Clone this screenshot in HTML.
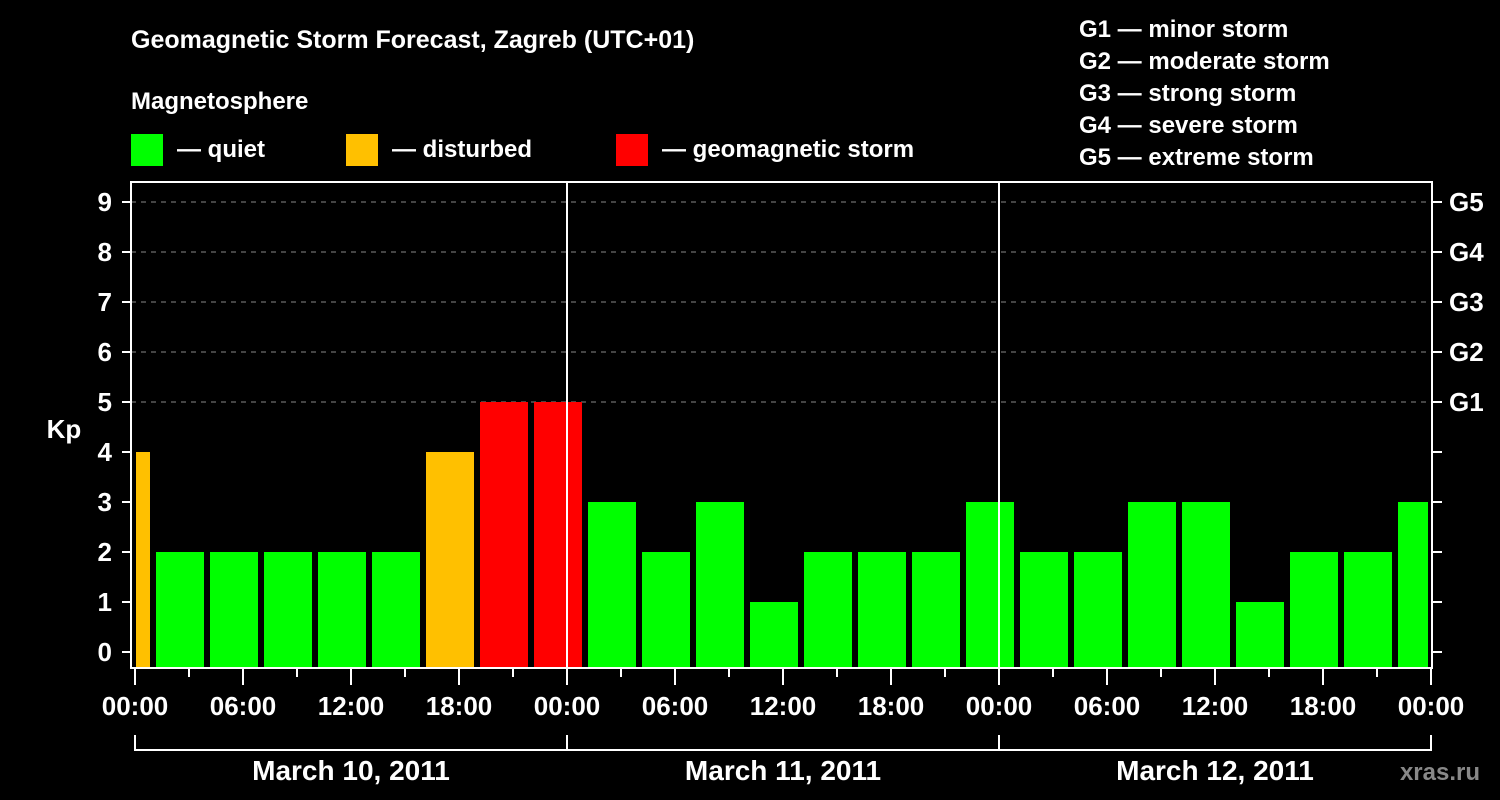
<!DOCTYPE html>
<html><head><meta charset="utf-8"><style>
html,body{margin:0;padding:0;background:#000;}
svg{display:block;font-family:"Liberation Sans",Arial,sans-serif;font-weight:bold;}
</style></head><body>
<svg id="chart" width="1500" height="800" viewBox="0 0 1500 800">
<rect x="0" y="0" width="1500" height="800" fill="#000"/>
<text x="131" y="48" fill="#fff" font-size="25">Geomagnetic Storm Forecast, Zagreb (UTC+01)</text>
<text x="131" y="109" fill="#fff" font-size="24">Magnetosphere</text>
<g><rect x="131" y="134" width="32" height="32" fill="#00ff00"/><text x="177" y="157" fill="#fff" font-size="24">— quiet</text></g>
<g><rect x="346" y="134" width="32" height="32" fill="#ffc000"/><text x="392" y="157" fill="#fff" font-size="24">— disturbed</text></g>
<g><rect x="616" y="134" width="32" height="32" fill="#ff0000"/><text x="662" y="157" fill="#fff" font-size="24">— geomagnetic storm</text></g>
<g fill="#fff" font-size="24">
<text x="1079" y="37">G1 — minor storm</text>
<text x="1079" y="69">G2 — moderate storm</text>
<text x="1079" y="101">G3 — strong storm</text>
<text x="1079" y="133">G4 — severe storm</text>
<text x="1079" y="165">G5 — extreme storm</text>
</g>
<text x="64" y="438" fill="#fff" font-size="26" text-anchor="middle">Kp</text>
<text x="1480" y="780" fill="#888" font-size="24" text-anchor="end">xras.ru</text>
<g id="grid"></g><g id="bars"></g><g id="axes"></g>
</svg>
<script>
const kpValues = [4,2,2,2,2,2,4,5,5,3,2,3,1,2,2,2,3,2,2,3,3,1,2,2,3];
const barCenterHours = [-0.5,2.5,5.5,8.5,11.5,14.5,17.5,20.5,23.5,26.5,29.5,32.5,35.5,38.5,41.5,44.5,47.5,50.5,53.5,56.5,59.5,62.5,65.5,68.5,71.5];
const yTicks = [0,1,2,3,4,5,6,7,8,9];
const gLabels = ["G1","G2","G3","G4","G5"];
const gLevels = [5,6,7,8,9];
const xTickLabels = ["00:00","06:00","12:00","18:00","00:00","06:00","12:00","18:00","00:00","06:00","12:00","18:00","00:00"];
const dayLabels = ["March 10, 2011","March 11, 2011","March 12, 2011"];

const NS="http://www.w3.org/2000/svg";
const X0=135, PXH=18, Y0=652, PXK=50, TOP=182, BOT=668, LEFT=131, RIGHT=1432;
const xs=h=>X0+h*PXH, ys=v=>Y0-v*PXK;
function mk(parent,tag,attrs){const e=document.createElementNS(NS,tag);for(const k in attrs)e.setAttribute(k,attrs[k]);parent.appendChild(e);return e;}
const grid=document.getElementById('grid'), bars=document.getElementById('bars'), axes=document.getElementById('axes');

gLevels.forEach((v,i)=>{
  const l=mk(grid,'line',{x1:LEFT,x2:RIGHT,y1:ys(v),y2:ys(v),stroke:'#888','stroke-width':1,'stroke-dasharray':'5,5'});
  
  
});
const minH=0,maxH=72;
kpValues.forEach((v,i)=>{
  const c=barCenterHours[i];
  let x1=xs(Math.max(c-1.5,minH))+3, x2=xs(Math.min(c+1.5,maxH))-3;
  if(c-1.5<minH) x1=xs(minH)+1;
  const col=v>=5?'#ff0000':(v>=4?'#ffc000':'#00ff00');
  const r=mk(bars,'rect',{x:x1,y:ys(v),width:x2-x1,height:BOT-ys(v),fill:col});
  
  
});
// day separators
[24,48].forEach(h=>{
  const l=mk(axes,'line',{x1:xs(h),x2:xs(h),y1:TOP,y2:BOT,stroke:'#fff','stroke-width':2});
  
  
});
const frame=mk(axes,'rect',{x:LEFT,y:TOP,width:RIGHT-LEFT,height:BOT-TOP,fill:'none',stroke:'#fff','stroke-width':2});


yTicks.forEach(v=>{
  mk(axes,'line',{x1:LEFT-9,x2:LEFT,y1:ys(v),y2:ys(v),stroke:'#fff','stroke-width':2});
  mk(axes,'line',{x1:RIGHT,x2:RIGHT+10,y1:ys(v),y2:ys(v),stroke:'#fff','stroke-width':2});
  const t=mk(axes,'text',{x:112,y:ys(v)+9,fill:'#fff','font-size':26,'text-anchor':'end'});
  t.textContent=v;
  
  
});
gLabels.forEach((g,i)=>{
  const t=mk(axes,'text',{x:1449,y:ys(gLevels[i])+9,fill:'#fff','font-size':26});
  t.textContent=g;
  
  
});
for(let h=0;h<=72;h+=3){
  const long=h%6===0;
  mk(axes,'line',{x1:xs(h),x2:xs(h),y1:BOT,y2:BOT+(long?17:9),stroke:'#fff','stroke-width':2});
}
xTickLabels.forEach((s,i)=>{
  const t=mk(axes,'text',{x:xs(i*6),y:715,fill:'#fff','font-size':26,'text-anchor':'middle'});
  t.textContent=s;
  
  
});
mk(axes,'line',{x1:xs(0),x2:xs(72),y1:750,y2:750,stroke:'#fff','stroke-width':2});
[0,24,48,72].forEach(h=>mk(axes,'line',{x1:xs(h),x2:xs(h),y1:735,y2:751,stroke:'#fff','stroke-width':2}));
dayLabels.forEach((s,i)=>{
  const t=mk(axes,'text',{x:xs(i*24+12),y:780,fill:'#fff','font-size':28,'text-anchor':'middle'});
  t.textContent=s;
  
  
});
</script>
</body></html>
